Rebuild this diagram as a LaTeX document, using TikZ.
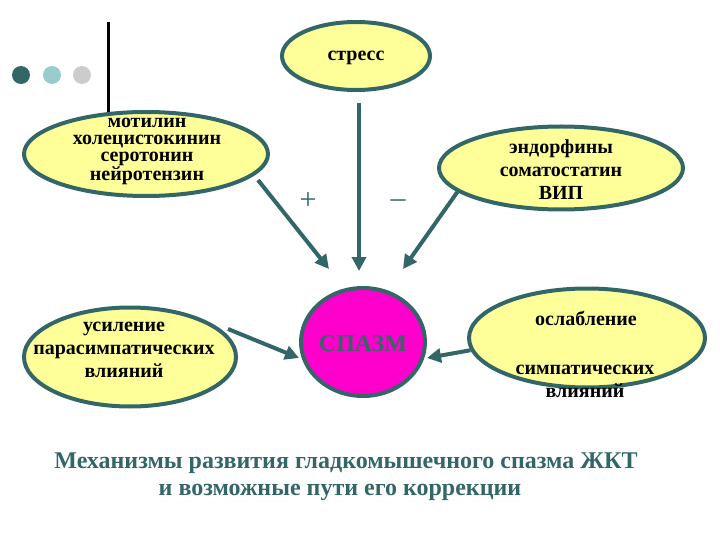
\documentclass[tikz,border=0pt]{standalone}
\usepackage{fontspec}
\setmainfont{Liberation Serif}
\usetikzlibrary{shapes.geometric,arrows.meta}
\definecolor{teal1}{HTML}{336666}
\definecolor{tealL}{HTML}{99CCCC}
\definecolor{greyD}{HTML}{CCCCCC}
\definecolor{yel}{HTML}{FFFF99}
\definecolor{mag}{HTML}{FF00CC}
\tikzset{
  oval/.style={ellipse,draw=teal1,line width=4pt,fill=yel,inner sep=0pt},
  lbl/.style={font=\bfseries\fontsize{20}{23}\selectfont,align=center,text=black,inner sep=0pt},
  arr/.style={draw=teal1,line width=4pt,-{Triangle[length=14pt,width=14pt]}},
  dot/.style={circle,inner sep=0pt,minimum size=18pt},
  ttl/.style={font=\bfseries\fontsize{24}{29}\selectfont,text=teal1,inner sep=0pt}
}
\begin{document}
\begin{tikzpicture}[x=1pt,y=-1pt]
\useasboundingbox (0,0) rectangle (720,540);
% decoration
\node[dot,fill=teal1] (d1) at (21,75) {};
\node[dot,fill=tealL] (d2) at (52,75) {};
\node[dot,fill=greyD] (d3) at (82,75) {};
\draw[line width=3pt] (108,22) -- (108,112);
% ovals
\node[oval,minimum width=148pt,minimum height=68pt] (stress) at (356,56) {};
\node[oval,minimum width=244pt,minimum height=84pt] (mot) at (146,154) {};
\node[oval,minimum width=244pt,minimum height=83pt] (endo) at (561,168) {};
\node[oval,minimum width=212pt,minimum height=99pt] (par) at (130,357) {};
\node[oval,minimum width=236pt,minimum height=99pt] (sym) at (587,338) {};
\node[ellipse,draw=teal1,line width=4pt,fill=mag,inner sep=0pt,minimum width=124pt,minimum height=108pt] (spazm) at (363,342) {};
% texts
\node[lbl] (tstress) at (356,58) {стресс};
\node[lbl,font=\bfseries\fontsize{20}{17}\selectfont] (tmot) at (147,151) {мотилин\\холецистокинин\\серотонин\\нейротензин};
\node[lbl] (tendo) at (561,170) {эндорфины\\соматостатин\\ВИП};
\node[lbl] (tpar) at (124,350) {усиление\\парасимпатических\\влияний};
\node[lbl] (tsym1) at (586,318) {ослабление};
\node[lbl] (tsym2) at (585,381) {симпатических\\влияний};
\node[font=\bfseries\fontsize{24}{24}\selectfont,text=teal1,inner sep=0pt] (tsp) at (363,344) {СПАЗМ};
% signs
\node[font=\fontsize{30}{30}\selectfont,text=teal1,inner sep=0pt] (plus) at (308,201) {+};
\node[font=\fontsize{30}{30}\selectfont,text=teal1,inner sep=0pt] (minus) at (398,204) {–};
% arrows
\coordinate (s1) at (258,180); \coordinate (e1) at (329,269);
\coordinate (s2) at (359,103); \coordinate (e2) at (359,271);
\coordinate (e3) at (403,269);
\coordinate (s4) at (228,329); \coordinate (e4) at (299,358);
\coordinate (e5) at (427,358);
\draw[arr] (s1) -- (e1);
\draw[arr] (s2) -- (e2);
\draw[arr] (endo.193) -- (e3);
\draw[arr] (s4) -- (e4);
\draw[arr] (sym.186) -- (e5);
% title
\node[ttl] (title1) at (346,463) {Механизмы развития гладкомышечного спазма ЖКТ};
\node[ttl] (title2) at (340,492) {и возможные пути его коррекции};
\end{tikzpicture}
\end{document}
